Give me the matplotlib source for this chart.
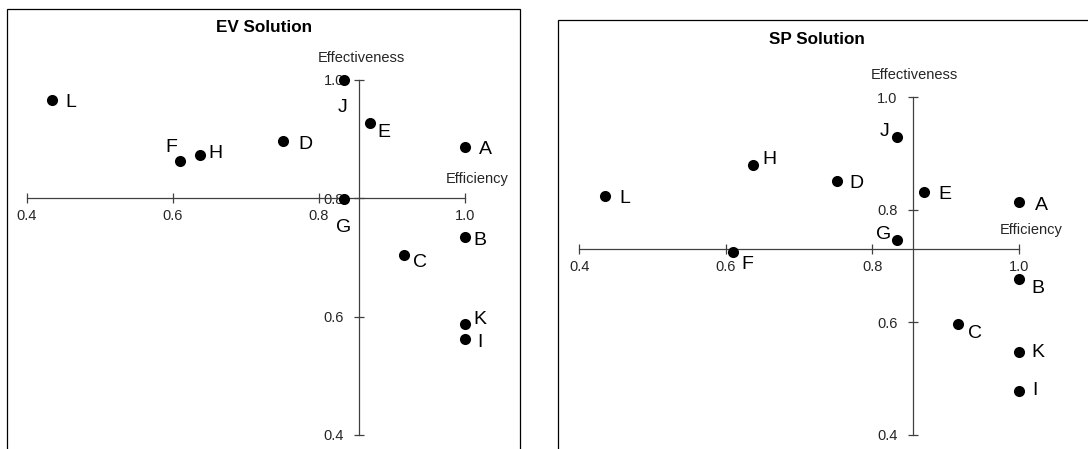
import matplotlib
matplotlib.use("Agg")
import matplotlib.pyplot as plt
from matplotlib.patches import Rectangle
from matplotlib.ticker import FormatStrFormatter

plt.rcParams['font.family'] = ['Liberation Sans', 'DejaVu Sans']

# Decision-making units and their scores
units = ['A', 'B', 'C', 'D', 'E', 'F', 'G', 'H', 'I', 'J', 'K', 'L']
efficiency = [1.0, 1.0, 0.917, 0.751, 0.870, 0.610, 0.834, 0.637, 1.0, 0.834, 1.0, 0.435]
ev_effectiveness = [0.887, 0.735, 0.704, 0.897, 0.928, 0.863, 0.799, 0.874, 0.563, 1.0, 0.588, 0.966]
sp_effectiveness = [0.814, 0.677, 0.597, 0.851, 0.831, 0.726, 0.747, 0.879, 0.479, 0.930, 0.547, 0.825]

axis_ticks = [0.4, 0.6, 0.8, 1.0]
panel_titles = ['EV Solution', 'SP Solution']

# Where the axes cross, per panel (efficiency, effectiveness)
crossings = [(0.855, 0.80), (0.855, 0.73)]

# Label offsets (pixels right, pixels down) from each point centre
ev_offsets = {'A': (20, 0), 'B': (15, 1), 'C': (16, 5), 'D': (22, 1), 'E': (14, 7),
              'F': (-9, -16), 'G': (0, 26), 'H': (16, -4), 'I': (15, 1), 'J': (-1, 25),
              'K': (15, -7), 'L': (19, 0)}
sp_offsets = {'A': (22, 1), 'B': (19, 7), 'C': (17, 7), 'D': (20, 0), 'E': (21, 0),
              'F': (14, 10), 'G': (-14, -8), 'H': (16, -8), 'I': (16, -3), 'J': (-13, -8),
              'K': (19, -2), 'L': (20, 0)}

W, H = 1088, 449
fig = plt.figure(figsize=(W / 100, H / 100), dpi=100)
fig.patch.set_facecolor('white')


def fy(py):
    return 1 - py / H


# Chart-area borders
fig.add_artist(Rectangle((7 / W, fy(460)), (520 - 7) / W, (460 - 9) / H,
                         transform=fig.transFigure, fill=False, ec='black', lw=0.9))
fig.add_artist(Rectangle((558 / W, fy(460)), (1110 - 558) / W, (460 - 20) / H,
                         transform=fig.transFigure, fill=False, ec='black', lw=0.9))

# Plot areas (left, top, right, bottom in pixels)
boxes = [(26.7, 80, 465, 435), (579.3, 97.3, 1019, 435)]
title_pos = [(264, 27.7), (816.7, 39)]
series = [ev_effectiveness, sp_effectiveness]
offsets = [ev_offsets, sp_offsets]

axis_col = '#404040'
small = 10.5
for k in range(2):
    l, t, r, b = boxes[k]
    ax = fig.add_axes([l / W, fy(b), (r - l) / W, (b - t) / H])
    ax.set_xlim(0.4, 1.0)
    ax.set_ylim(0.4, 1.0)
    ax.patch.set_visible(False)
    for s in ['top', 'right']:
        ax.spines[s].set_visible(False)
    cx, cy = crossings[k]
    ax.spines['left'].set_position(('data', cx))
    ax.spines['bottom'].set_position(('data', cy))
    for s in ['left', 'bottom']:
        ax.spines[s].set_color(axis_col)
        ax.spines[s].set_linewidth(0.9)
    ax.set_xticks(axis_ticks)
    ax.set_yticks(axis_ticks)
    ax.xaxis.set_major_formatter(FormatStrFormatter('%.1f'))
    ax.yaxis.set_major_formatter(FormatStrFormatter('%.1f'))
    ax.tick_params(direction='inout', length=7, width=0.9, color=axis_col,
                   labelsize=small, labelcolor='#262626')
    ax.tick_params(axis='x', pad=4.5)
    ax.tick_params(axis='y', pad=7.5)

    ys = series[k]
    ax.scatter(efficiency, ys, s=64, c='black', zorder=5, clip_on=False, linewidths=0)
    for name, x, y in zip(units, efficiency, ys):
        dx, dy = offsets[k][name]
        ax.annotate(name, (x, y), xytext=(dx, -dy - 7), textcoords='offset pixels',
                    ha='center', va='baseline', fontsize=14, color='black',
                    annotation_clip=False, zorder=6)

    ax.annotate('Effectiveness', (cx, 1.0), xytext=(2, 22), textcoords='offset pixels',
                ha='center', va='center', fontsize=small, color='#262626',
                annotation_clip=False)
    ax.annotate('Efficiency', (1.0, cy), xytext=(12, 19), textcoords='offset pixels',
                ha='center', va='center', fontsize=small, color='#262626',
                annotation_clip=False)

    tx, ty = title_pos[k]
    fig.text(tx / W, fy(ty), panel_titles[k], ha='center', va='center',
             fontsize=12.3, fontweight='bold', color='black')

fig.savefig('out.png', dpi=100)
